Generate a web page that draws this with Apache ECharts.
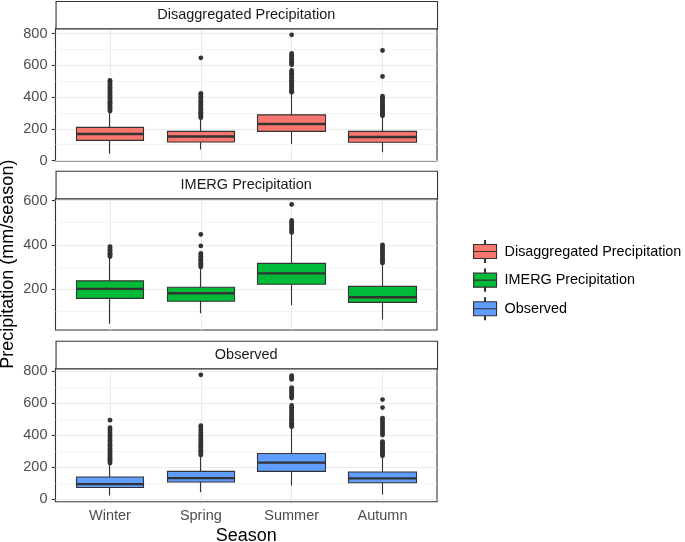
<!DOCTYPE html>
<html>
<head>
<meta charset="utf-8">
<title>Seasonal precipitation boxplots</title>
<script src="https://cdn.jsdelivr.net/npm/echarts@6/dist/echarts.min.js"></script>
<style>
  html, body { margin: 0; padding: 0; background: #fff; }
  #chart { width: 685px; height: 542px; }
</style>
</head>
<body>
<div id="chart"></div>
<script>
// ---- data ----
const seasons = ['Winter', 'Spring', 'Summer', 'Autumn'];
const groups = ['Disaggregated Precipitation', 'IMERG Precipitation', 'Observed'];

// per season: [lower whisker, Q1, median, Q3, upper whisker]
const disaggStats = [[42, 127, 167, 209, 302], [69, 117, 152, 184, 262], [104, 184, 230, 288, 422], [52, 115, 148, 184, 272]];
const imergStats = [[43, 158, 201, 237, 340], [91, 145, 181, 208, 295], [128, 222, 271, 316, 445], [62, 140, 163, 212, 312]];
const observedStats = [[21, 71, 92, 137, 218], [42, 105, 130, 172, 266], [84, 172, 227, 284, 446], [27, 101, 128, 168, 262]];

// outliers per season
const disaggOutliers = [
  [312, 318, 325, 331, 338, 344, 352, 359, 366, 373, 381, 388, 396, 404, 411, 419, 428, 436, 445, 453, 462, 471, 480, 489, 497, 506],
  [270, 276, 283, 290, 297, 304, 312, 320, 328, 337, 346, 355, 364, 374, 384, 394, 405, 416, 424, 648],
  [430, 437, 444, 451, 459, 466, 474, 482, 490, 498, 507, 515, 524, 533, 542, 551, 560, 568, 604, 612, 620, 629, 638, 647, 656, 666, 675, 793],
  [282, 288, 295, 302, 309, 316, 324, 332, 340, 349, 358, 367, 376, 386, 396, 406, 530, 694]
];
const imergOutliers = [
  [347, 352, 357, 362, 368, 374, 380, 387, 392],
  [300, 305, 311, 316, 322, 328, 334, 341, 348, 355, 361, 395, 447],
  [455, 462, 470, 478, 486, 494, 502, 510, 582],
  [318, 324, 330, 336, 343, 350, 357, 364, 371, 379, 387, 394, 399]
];
const observedOutliers = [
  [224, 231, 238, 246, 254, 262, 270, 279, 288, 297, 306, 315, 325, 335, 345, 356, 367, 378, 390, 402, 414, 426, 438, 446, 493],
  [274, 281, 288, 296, 304, 312, 321, 330, 339, 349, 359, 369, 380, 391, 402, 414, 426, 438, 450, 458, 777],
  [452, 459, 466, 474, 482, 490, 498, 507, 516, 525, 534, 544, 554, 564, 574, 585, 632, 640, 650, 660, 670, 680, 690, 697, 748, 756, 764, 772],
  [270, 277, 284, 291, 299, 307, 315, 324, 333, 342, 352, 358, 400, 410, 420, 431, 442, 453, 464, 476, 488, 500, 506, 572, 622]
];

// axis ranges and ticks
const yMin = [-3, 15, -18];
const yMax = [834, 610, 818];
const yTicks = [0, 200, 400, 600, 800];
const yMinorTicks = [100, 300, 500, 700];
const xTicks = [1, 2, 3, 4];

// ---- layout / style ----
const allStats = [disaggStats, imergStats, observedStats];
const allOutliers = [disaggOutliers, imergOutliers, observedOutliers];
const fills = ['#F8766D', '#00BA38', '#619CFF'];
const ink = '#333333';
const panelLeft = 55.5, panelWidth = 381.5;
const gridTop = [28.3, 198.3, 368.3];
const gridHeight = [132.7, 131.7, 133.4];
const stripTop = [1, 170.7, 340.7];
const font = '"Liberation Sans", Arial, sans-serif';

const inRange = (arr, i) => arr.filter(v => v >= yMin[i] && v <= yMax[i]);

const grids = [], xAxes = [], yAxes = [], series = [], graphics = [];

groups.forEach((g, i) => {
  const last = i === 2;
  grids.push({
    left: panelLeft, width: panelWidth, top: gridTop[i], height: gridHeight[i],
    outerBoundsMode: 'none', containLabel: false,
    show: true, borderColor: ink, borderWidth: 1.1, backgroundColor: '#fff'
  });
  xAxes.push({
    type: 'value', gridIndex: i, min: 0.4, max: 4.6,
    splitLine: { show: false }, axisLine: { show: false },
    axisTick: { show: last, customValues: xTicks, length: 3.7, lineStyle: { color: ink, width: 1.1 } },
    axisLabel: {
      show: last, customValues: xTicks, margin: 7, fontSize: 14.5, color: '#4d4d4d', fontFamily: font,
      formatter: v => seasons[Math.round(v) - 1]
    },
    name: last ? 'Season' : '', nameLocation: 'middle', nameGap: 25, nameMoveOverlap: false,
    nameTextStyle: { fontSize: 18, color: '#000', fontFamily: font }
  });
  yAxes.push({
    type: 'value', gridIndex: i, min: yMin[i], max: yMax[i],
    splitLine: { show: false }, axisLine: { show: false },
    axisTick: { show: true, customValues: inRange(yTicks, i), length: 3.7, lineStyle: { color: ink, width: 1.1 } },
    axisLabel: {
      customValues: inRange(yTicks, i), margin: 8, fontSize: 14.5, color: '#4d4d4d', fontFamily: font,
      formatter: v => String(v)
    },
    name: i === 1 ? 'Precipitation (mm/season)' : '', nameLocation: 'middle', nameGap: 38, nameMoveOverlap: false,
    nameTextStyle: { fontSize: 18, color: '#000', fontFamily: font }
  });

  // panel grid lines, kept under the boxes
  const gridLines = []
    .concat(inRange(yMinorTicks, i).map(v => ({ yAxis: v, lineStyle: { color: '#f2f2f2', width: 0.8, type: 'solid' } })))
    .concat(inRange(yTicks, i).map(v => ({ yAxis: v, lineStyle: { color: '#ebebeb', width: 1.1, type: 'solid' } })))
    .concat(xTicks.map(v => ({ xAxis: v, lineStyle: { color: '#ebebeb', width: 1.1, type: 'solid' } })));
  series.push({
    type: 'line', name: 'grid' + i, xAxisIndex: i, yAxisIndex: i, data: [], z: 1,
    markLine: { z: 1, silent: true, symbol: ['none', 'none'], label: { show: false }, animation: false, data: gridLines }
  });

  const stats = allStats[i];
  series.push({
    type: 'candlestick', name: g, xAxisIndex: i, yAxisIndex: i, z: 3,
    barWidth: 68,
    data: stats.map((s, j) => [xTicks[j], s[1], s[3], s[0], s[4]]),
    itemStyle: { color: fills[i], color0: fills[i], borderColor: ink, borderColor0: ink, borderWidth: 1.1 }
  });
  series.push({
    type: 'scatter', name: 'median' + i, xAxisIndex: i, yAxisIndex: i, z: 4, silent: true,
    symbol: 'rect', symbolSize: [67, 2.4],
    data: stats.map((s, j) => [xTicks[j], s[2]]),
    itemStyle: { color: ink, opacity: 1 }
  });
  const pts = [];
  allOutliers[i].forEach((arr, j) => arr.forEach(v => pts.push([xTicks[j], v])));
  series.push({
    type: 'scatter', name: 'outliers' + i, xAxisIndex: i, yAxisIndex: i, z: 4, silent: true,
    symbolSize: 4.8, data: pts, itemStyle: { color: ink, opacity: 1 }
  });

  // facet strip
  graphics.push({
    type: 'rect', left: panelLeft, top: stripTop[i], z: 10,
    shape: { width: panelWidth, height: gridTop[i] - stripTop[i] },
    style: { fill: '#fff', stroke: ink, lineWidth: 1.1 }
  });
  graphics.push({
    type: 'text', z: 11,
    x: panelLeft + panelWidth / 2, y: (stripTop[i] + gridTop[i]) / 2,
    style: { text: g, fill: '#1a1a1a', font: '14.5px ' + font, align: 'center', verticalAlign: 'middle' }
  });
});

const legendIcon = 'path://M0,4H23V11H0Z M0,11H23V18H0Z M11,0H12V4H11Z M11,18H12V22H11Z';

const chart = echarts.init(document.getElementById('chart'));
chart.setOption({
  animation: false,
  backgroundColor: '#fff',
  textStyle: { fontFamily: font },
  grid: grids,
  xAxis: xAxes,
  yAxis: yAxes,
  legend: {
    orient: 'vertical', left: 468, top: 235,
    itemWidth: 23, itemHeight: 22, itemGap: 5.5, selectedMode: false,
    textStyle: { fontSize: 14.4, color: '#000', fontFamily: font, padding: [0, 0, 0, 3] },
    data: groups.map((g, i) => ({
      name: g, icon: legendIcon,
      itemStyle: { color: fills[i], borderColor: ink, borderWidth: 1.1 }
    }))
  },
  graphic: graphics,
  series: series
});
</script>
</body>
</html>
